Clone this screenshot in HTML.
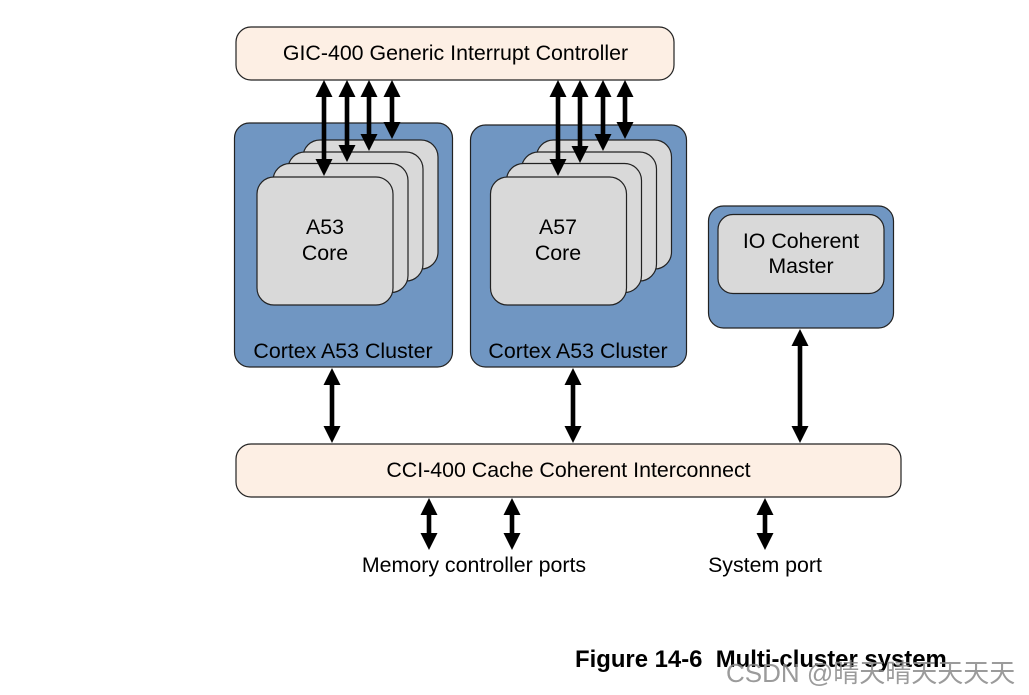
<!DOCTYPE html>
<html>
<head>
<meta charset="utf-8">
<style>
html,body{margin:0;padding:0;background:#fff;width:1029px;height:695px;overflow:hidden}
svg{display:block}
text{font-family:"Liberation Sans","Noto Sans CJK SC",sans-serif;fill:#000}
.b{stroke:#222;stroke-width:1.2}
</style>
</head>
<body>
<svg width="1029" height="695" viewBox="0 0 1029 695" xmlns="http://www.w3.org/2000/svg">
<defs>
<g id="cards">
<rect class="b" x="46.500" y="17" width="135" height="129" rx="17" fill="#d9d9d9"/>
<rect class="b" x="31.500" y="29" width="135" height="129" rx="17" fill="#d9d9d9"/>
<rect class="b" x="16.500" y="40.500" width="135" height="129" rx="17" fill="#d9d9d9"/>
<rect class="b" x="0.500" y="54" width="136" height="128" rx="17" fill="#d9d9d9"/>
</g>
</defs>

<rect class="b" x="236" y="27" width="438" height="53" rx="15" fill="#fdefe4"/>
<text x="455.500" y="60" font-size="21.350" text-anchor="middle">GIC-400 Generic Interrupt Controller</text>

<rect class="b" x="234.500" y="123" width="218" height="244" rx="15" fill="#7096c2"/>
<rect class="b" x="470.500" y="125" width="216" height="242" rx="15" fill="#7096c2"/>
<rect class="b" x="708.500" y="206" width="185" height="122" rx="15" fill="#7096c2"/>
<rect class="b" x="718" y="214.500" width="166" height="79" rx="15" fill="#d9d9d9"/>

<use href="#cards" x="256.500" y="123"/>
<use href="#cards" x="490" y="123"/>

<text font-size="21.350" text-anchor="middle"><tspan x="325" y="234">A53</tspan><tspan x="325" y="260">Core</tspan></text>
<text font-size="21.350" text-anchor="middle"><tspan x="558" y="234">A57</tspan><tspan x="558" y="260">Core</tspan></text>
<text font-size="21.350" text-anchor="middle"><tspan x="801" y="248">IO Coherent</tspan><tspan x="801" y="273">Master</tspan></text>
<text x="343" y="358" font-size="21.350" text-anchor="middle">Cortex A53 Cluster</text>
<text x="578" y="358" font-size="21.350" text-anchor="middle">Cortex A53 Cluster</text>

<rect class="b" x="236" y="444" width="665" height="53" rx="15" fill="#fdefe4"/>
<text x="568.500" y="477" font-size="21.350" text-anchor="middle">CCI-400 Cache Coherent Interconnect</text>

<text x="474" y="572" font-size="21.350" text-anchor="middle">Memory controller ports</text>
<text x="765" y="572" font-size="21.350" text-anchor="middle">System port</text>

<g fill="none" stroke="#000" stroke-width="4.600">
<path d="M324 90V166M347 90V152M369 90V140M392 90V129"/>
<path d="M558 90V166M580 90V152M603 90V140M625 90V129"/>
<path d="M332 378V433M573 378V433M800 339V433"/>
<path d="M429 508V540M512 508V540M765 508V540"/>
</g>
<g fill="#000">
<path d="M324 80l8.500 17h-17zM324 176l8.500 -17h-17zM347 80l8.500 17h-17zM347 162l8.500 -17h-17zM369 80l8.500 17h-17zM369 151l8.500 -17h-17zM392 80l8.500 17h-17zM392 139l8.500 -17h-17z"/>
<path d="M558 80l8.500 17h-17zM558 176l8.500 -17h-17zM580 80l8.500 17h-17zM580 163l8.500 -17h-17zM603 80l8.500 17h-17zM603 151l8.500 -17h-17zM625 80l8.500 17h-17zM625 139l8.500 -17h-17z"/>
<path d="M332 368l8.500 17h-17zM332 443l8.500 -17h-17zM573 368l8.500 17h-17zM573 443l8.500 -17h-17zM800 329l8.500 17h-17zM800 443l8.500 -17h-17z"/>
<path d="M429 498l8.500 17h-17zM429 550l8.500 -17h-17zM512 498l8.500 17h-17zM512 550l8.500 -17h-17zM765 498l8.500 17h-17zM765 550l8.500 -17h-17z"/>
</g>

<text x="575" y="667" font-size="23.900" font-weight="bold" xml:space="preserve">Figure 14-6  Multi-cluster system</text>
<text x="726" y="682" font-size="26" style="fill:#8a8a8a;fill-opacity:.85">CSDN @晴天晴天天天天</text>
</svg>
</body>
</html>
